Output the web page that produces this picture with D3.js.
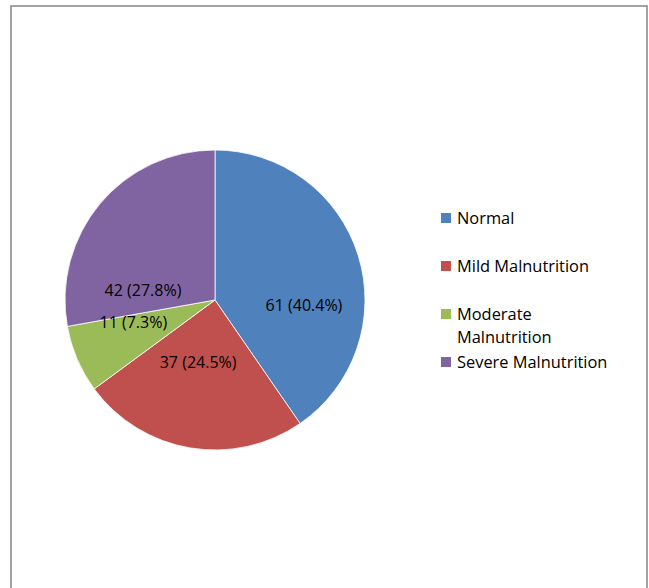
<!DOCTYPE html>
<html>
<head>
<meta charset="utf-8">
<script src="https://cdn.jsdelivr.net/npm/d3@7"></script>
<style>
  body { margin: 0; background: #fff; }
  svg { display: block; font-family: "Open Sans", "Noto Sans", sans-serif; }
</style>
</head>
<body>
<svg id="chart" width="649" height="588"></svg>
<script>
// data
var categories = ['Normal', 'Mild Malnutrition', 'Moderate Malnutrition', 'Severe Malnutrition'];
var counts = [61, 37, 11, 42];
var percents = ['40.4%', '24.5%', '7.3%', '27.8%'];
var colors = ['#4F81BD', '#C0504D', '#9BBB59', '#8064A2'];

// legend text is wrapped like the original
var legendLines = [['Normal'], ['Mild Malnutrition'], ['Moderate', 'Malnutrition'], ['Severe Malnutrition']];

var svg = d3.select('#chart');

// frame
svg.append('rect')
    .attr('x', 11)
    .attr('y', 6)
    .attr('width', 636)
    .attr('height', 600)
    .attr('fill', 'none')
    .attr('stroke', '#8c8c8c')
    .attr('stroke-width', 1.6);

var cx = 215, cy = 300, radius = 150;

var pie = d3.pie().sort(null).value(d => d);
var arcs = pie(counts);
var arc = d3.arc().innerRadius(0).outerRadius(radius);

var g = svg.append('g').attr('transform', `translate(${cx},${cy})`);

g.selectAll('path.slice')
    .data(arcs)
    .enter().append('path')
        .attr('class', 'slice')
        .attr('d', arc)
        .attr('fill', (d, i) => colors[i])
        .attr('stroke', '#fff')
        .attr('stroke-width', 0.8);

// excel "best fit" placement: nudges off the centroid
var labelArc = d3.arc().innerRadius(radius * 0.6).outerRadius(radius * 0.6);
var labelNudge = [[3, 32], [-2, -26], [1, -13], [-3, 48]];

g.selectAll('text.label')
    .data(arcs)
    .enter().append('text')
        .attr('class', 'label')
        .attr('transform', (d, i) => {
            var c = labelArc.centroid(d);
            return `translate(${c[0] + labelNudge[i][0]},${c[1] + labelNudge[i][1]})`;
        })
        .attr('text-anchor', 'middle')
        .attr('dy', '0.35em')
        .attr('font-size', 16)
        .attr('fill', '#000')
        .text((d, i) => `${counts[i]} (${percents[i]})`);

// legend
var legendY = d3.scalePoint()
    .domain(categories)
    .range([218, 362]);

var legend = svg.append('g').attr('class', 'legend');

var item = legend.selectAll('g.item')
    .data(categories)
    .enter().append('g')
        .attr('class', 'item')
        .attr('transform', (d, i) => {
            var y = legendY(d);
            // two-line item sits a bit lower
            if (legendLines[i].length > 1) y = 314;
            return `translate(441,${y})`;
        });

item.append('rect')
    .attr('x', 0)
    .attr('y', -5)
    .attr('width', 10)
    .attr('height', 10)
    .attr('fill', (d, i) => colors[i]);

item.append('text')
    .attr('x', 16)
    .attr('font-size', 16.4)
    .attr('fill', '#000')
    .selectAll('tspan')
    .data((d, i) => legendLines[i])
    .enter().append('tspan')
        .attr('x', 16)
        .attr('dy', (d, j) => j === 0 ? '0.35em' : '1.42em')
        .text(d => d);
</script>
</body>
</html>
